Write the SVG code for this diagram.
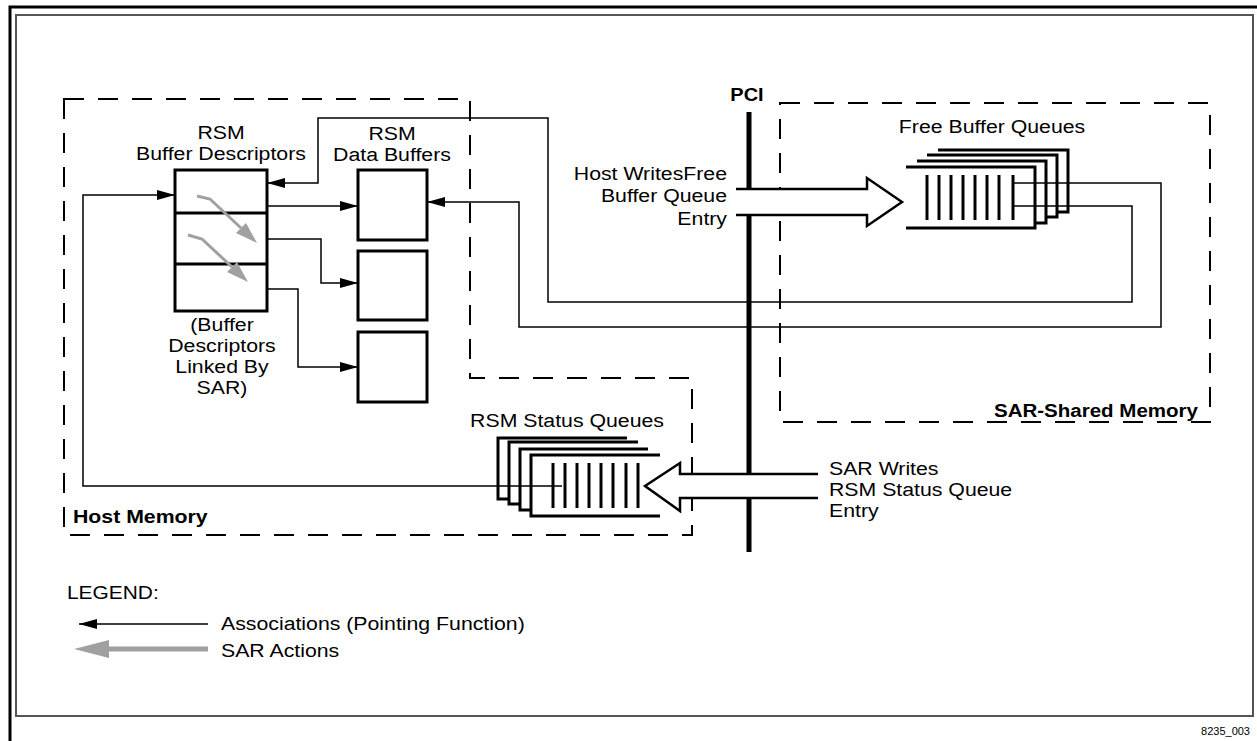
<svg xmlns="http://www.w3.org/2000/svg" width="1257" height="741" viewBox="0 0 1257 741">
<style>
text{font-family:"Liberation Sans",Arial,sans-serif;font-size:19px;fill:#000}
.b{font-weight:bold}
.c{text-anchor:middle}
.r{text-anchor:end}
.dash{fill:none;stroke:#000;stroke-width:2;stroke-dasharray:20 14}
.box{fill:#fff;stroke:#000;stroke-width:3}
.q{fill:#fff;stroke:#000;stroke-width:3}
.bar{stroke:#000;stroke-width:3}
.ln{fill:none;stroke:#000;stroke-width:1.5}
.ga{fill:none;stroke:#a0a0a0;stroke-width:3}
.gh{fill:#a0a0a0}
.hollow{fill:#fff;stroke:#000;stroke-width:2.5}
</style>
<defs>
<marker id="arr" markerUnits="userSpaceOnUse" markerWidth="18" markerHeight="10" viewBox="0 0 18 10" refX="18" refY="5" orient="auto">
<path d="M0,0 L18,5 L0,10 z" fill="#000"/>
</marker>
</defs>
<rect width="1257" height="741" fill="#fff"/>
<g id="frame">
<path d="M10,741 V7 H1257" fill="none" stroke="#000" stroke-width="3"/>
<rect x="16" y="15" width="1237" height="701" fill="none" stroke="#555" stroke-width="2"/>
<text x="1250" y="735" class="r" style="font-size:11px">8235_003</text>
</g>
<g id="host-memory">
<path class="dash" d="M64,99 H470 V378 H692 V535 H64 Z"/>
<text transform="translate(73 523) scale(1.12 1)" class="b">Host Memory</text>
</g>
<g id="sar-shared-memory">
<rect class="dash" x="780" y="103" width="430" height="319"/>
<text transform="translate(1198 417) scale(1.08 1)" class="b r">SAR-Shared Memory</text>
</g>
<g id="pci">
<line x1="749" y1="112" x2="749" y2="552" stroke="#000" stroke-width="5"/>
<text transform="translate(747 101) scale(1.05 1)" class="b c">PCI</text>
</g>
<g id="buffer-descriptors">
<text transform="translate(221 139) scale(1.12 1)" class="c">RSM</text>
<text transform="translate(221 160) scale(1.12 1)" class="c">Buffer Descriptors</text>
<rect class="box" x="175" y="170" width="92" height="141"/>
<line x1="175" y1="213" x2="267" y2="213" class="bar"/>
<line x1="175" y1="264" x2="267" y2="264" class="bar"/>
<text transform="translate(222 331) scale(1.12 1)" class="c">(Buffer</text>
<text transform="translate(222 352) scale(1.12 1)" class="c">Descriptors</text>
<text transform="translate(222 373) scale(1.12 1)" class="c">Linked By</text>
<text transform="translate(222 394) scale(1.12 1)" class="c">SAR)</text>
<polyline class="ga" points="197,196 210,199 241,228"/>
<polygon class="gh" points="257,243 236,233 246,223"/>
<polyline class="ga" points="188,235 202,239 232,267"/>
<polygon class="gh" points="248,282 227,272 237,262"/>
</g>
<g id="data-buffers">
<text transform="translate(392 140) scale(1.12 1)" class="c">RSM</text>
<text transform="translate(392 161) scale(1.12 1)" class="c">Data Buffers</text>
<rect class="box" x="358" y="170" width="69" height="70"/>
<rect class="box" x="358" y="251" width="69" height="69"/>
<rect class="box" x="358" y="332" width="69" height="70"/>
</g>
<g id="free-buffer-queues">
<text transform="translate(992 133) scale(1.12 1)" class="c">Free Buffer Queues</text>
<path class="q" d="M938,150 H1068 V212 H938"/>
<path class="q" d="M927,155 H1057 V217 H927"/>
<path class="q" d="M917,161 H1046 V223 H917"/>
<path class="q" d="M906,167 H1035 V228 H906"/>
<g class="bar">
<line x1="927" y1="175" x2="927" y2="220"/><line x1="939" y1="175" x2="939" y2="220"/>
<line x1="951" y1="175" x2="951" y2="220"/><line x1="963" y1="175" x2="963" y2="220"/>
<line x1="975" y1="175" x2="975" y2="220"/><line x1="987" y1="175" x2="987" y2="220"/>
<line x1="999" y1="175" x2="999" y2="220"/><line x1="1013" y1="175" x2="1013" y2="220"/>
</g>
</g>
<g id="status-queues">
<text transform="translate(567 427) scale(1.12 1)" class="c">RSM Status Queues</text>
<path class="q" d="M627,438 H498 V499 H627"/>
<path class="q" d="M638,442 H509 V504 H638"/>
<path class="q" d="M648,449 H520 V510 H648"/>
<path class="q" d="M660,455 H531 V516 H660"/>
<g class="bar">
<line x1="553" y1="463" x2="553" y2="508"/><line x1="565" y1="463" x2="565" y2="508"/>
<line x1="577" y1="463" x2="577" y2="508"/><line x1="589" y1="463" x2="589" y2="508"/>
<line x1="601" y1="463" x2="601" y2="508"/><line x1="613" y1="463" x2="613" y2="508"/>
<line x1="626" y1="463" x2="626" y2="508"/><line x1="638" y1="463" x2="638" y2="508"/>
</g>
</g>
<g id="host-writes">
<path class="hollow" d="M736,189 H867 V178 L902,202 L867,226 V215 H736"/>
<text transform="translate(727 180) scale(1.12 1)" class="r">Host WritesFree</text>
<text transform="translate(727 202) scale(1.12 1)" class="r">Buffer Queue</text>
<text transform="translate(727 225) scale(1.12 1)" class="r">Entry</text>
</g>
<g id="sar-writes">
<path class="hollow" d="M818,474 H680 V463 L645,486 L680,511 V498 H818"/>
<text transform="translate(829 475) scale(1.12 1)">SAR Writes</text>
<text transform="translate(829 496) scale(1.12 1)">RSM Status Queue</text>
<text transform="translate(829 517) scale(1.12 1)">Entry</text>
</g>
<g id="connectors">
<line class="ln" x1="267" y1="206" x2="358" y2="206" marker-end="url(#arr)"/>
<polyline class="ln" points="267,239 321,239 321,283 358,283" marker-end="url(#arr)"/>
<polyline class="ln" points="267,289 298,289 298,367 358,367" marker-end="url(#arr)"/>
<polyline class="ln" points="1013,183 1161,183 1161,327 519,327 519,202 427,202" marker-end="url(#arr)"/>
<polyline class="ln" points="1013,206 1132,206 1132,302 548,302 548,118 318,118 318,183 267,183" marker-end="url(#arr)"/>
<polyline class="ln" points="562,486 83,486 83,195 175,195" marker-end="url(#arr)"/>
</g>
<g id="legend">
<text transform="translate(67 599) scale(1.1 1)">LEGEND:</text>
<line class="ln" x1="208" y1="624" x2="79" y2="624" marker-end="url(#arr)"/>
<text transform="translate(221 630) scale(1.12 1)">Associations (Pointing Function)</text>
<line x1="208" y1="649" x2="105" y2="649" stroke="#a0a0a0" stroke-width="5"/>
<polygon class="gh" points="74,649 109,640 109,658"/>
<text transform="translate(221 657) scale(1.12 1)">SAR Actions</text>
</g>
</svg>
